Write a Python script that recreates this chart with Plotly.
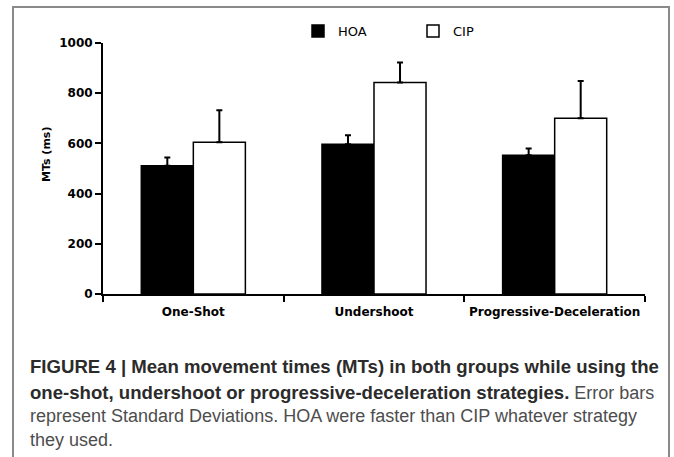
import plotly.graph_objects as go

categories = ["One-Shot", "Undershoot", "Progressive-Deceleration"]
hoa_mean = [511, 597, 553]
hoa_sd = [33, 35, 27]
cip_mean = [605, 843, 700]
cip_sd = [127, 79, 149]
y_ticks = [0, 200, 400, 600, 800, 1000]

W, H = 674, 457
L, R, T, B = 103, 29, 43, 163
pw, ph = W - L - R, H - T - B

def px_x(p):
    return (p - L) / pw

def px_y(p):
    return (H - B - p) / ph

fig = go.Figure()
fig.add_trace(go.Bar(
    name="HOA", x=categories, y=hoa_mean,
    marker=dict(color="black", line=dict(color="black", width=1.5)),
    error_y=dict(type="data", array=hoa_sd, arrayminus=[0] * 3, symmetric=False,
                 color="black", thickness=2, width=3),
))
fig.add_trace(go.Bar(
    name="CIP", x=categories, y=cip_mean,
    marker=dict(color="white", line=dict(color="black", width=1.5)),
    error_y=dict(type="data", array=cip_sd, arrayminus=[0] * 3, symmetric=False,
                 color="black", thickness=2, width=3),
))

axis_font = dict(family="DejaVu Sans", size=12, color="black", weight="bold")

fig.update_layout(
    width=W, height=H,
    margin=dict(l=L, r=R, t=T, b=B, autoexpand=False),
    paper_bgcolor="white", plot_bgcolor="white",
    barmode="group", bargap=0.424, bargroupgap=0,
    showlegend=True,
    legend=dict(orientation="h", x=px_x(298), y=px_y(31), xanchor="left", yanchor="middle",
                entrywidth=70, entrywidthmode="pixels", itemwidth=30,
                font=dict(family="DejaVu Sans", size=13, color="black"),
                bgcolor="rgba(0,0,0,0)", traceorder="normal"),
    xaxis=dict(showline=True, linecolor="black", linewidth=2, ticks="outside",
               tickson="boundaries", ticklen=6, tickwidth=2, tickcolor="black",
               tickfont=axis_font, showgrid=False, ticklabelstandoff=6, tickangle=0),
    yaxis=dict(range=[0, 1000], tickvals=y_ticks, showline=True, linecolor="black",
               linewidth=2, ticks="outside", ticklen=6, tickwidth=2, tickcolor="black",
               tickfont=axis_font, showgrid=False, zeroline=False),
    font=dict(family="DejaVu Sans"),
)

# y-axis title
fig.add_annotation(text="<b>MTs (ms)</b>", xref="paper", yref="paper",
                   x=px_x(46), y=px_y(155), textangle=-90, showarrow=False,
                   font=dict(family="DejaVu Sans", size=11, color="black"),
                   xanchor="center", yanchor="middle")

# caption
cap_font = dict(family="Liberation Sans", size=18, color="#4d4d4d")
BS = "color:#2b2b2b;font-size:18.6px"
lines = [
    (f"<b><span style='{BS}'>FIGURE 4 | Mean movement times (MTs) in both groups while using the</span></b>", 366),
    (f"<b><span style='{BS}'>one-shot, undershoot or progressive-deceleration strategies.</span></b> Error bars", 392),
    ("represent Standard Deviations. HOA were faster than CIP whatever strategy", 416),
    ("they used.", 440),
]
for txt, yy in lines:
    fig.add_annotation(text=txt, xref="paper", yref="paper", x=px_x(28), y=px_y(yy),
                       xanchor="left", yanchor="middle", align="left", showarrow=False,
                       font=cap_font)

# outer frame
fig.add_shape(type="rect", xref="paper", yref="paper",
              x0=px_x(13), x1=px_x(669), y0=px_y(470), y1=px_y(7),
              line=dict(color="#8a8a8a", width=2), fillcolor="rgba(0,0,0,0)", layer="below")

fig.write_html("out.html", config={"displayModeBar": False},
               post_script="document.body.style.margin='0';document.body.style.overflow='hidden';")
